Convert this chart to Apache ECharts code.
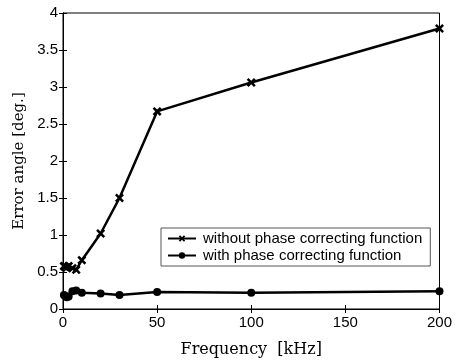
<!DOCTYPE html>
<html><head><meta charset="utf-8">
<script src="https://cdn.jsdelivr.net/npm/echarts@6/dist/echarts.min.js"></script>
<style>html,body{margin:0;padding:0;background:#fff}#c{width:455px;height:363px}</style>
</head><body><div id="c"></div>
<script>
var freq = [0.5, 1, 2, 3, 5, 7, 10, 20, 30, 50, 100, 200];
var withoutCorr = [0.58, 0.57, 0.56, 0.58, 0.55, 0.53, 0.66, 1.02, 1.5, 2.67, 3.06, 3.79];
var withCorr = [0.19, 0.18, 0.16, 0.17, 0.24, 0.25, 0.22, 0.21, 0.19, 0.23, 0.22, 0.24];
var xTicks = [0, 50, 100, 150, 200];
var yTicks = [0, 0.5, 1, 1.5, 2, 2.5, 3, 3.5, 4];
var seriesNames = ['without phase correcting function', 'with phase correcting function'];

function pairs(xs, ys) { return xs.map(function (x, i) { return [x, ys[i]]; }); }
var cross = 'path://M0,2 L2,0 L5,3 L8,0 L10,2 L7,5 L10,8 L8,10 L5,7 L2,10 L0,8 L3,5 Z';
var tickFont = {color: '#000', fontFamily: 'Liberation Sans, Arial, sans-serif', fontSize: 15};
var titleFont = {color: '#000', fontFamily: 'DejaVu Serif, serif', fontSize: 15};
var lineStyle = {color: '#000', width: 1};

var chart = echarts.init(document.getElementById('c'));
chart.setOption({
  animation: false,
  backgroundColor: '#fff',
  grid: {left: 63, right: 12, top: 13, bottom: 50, show: true, borderColor: '#000', borderWidth: 1},
  legend: {
    left: 161, top: 228, orient: 'vertical', itemGap: 0, itemWidth: 28, itemHeight: 8,
    padding: [2, 8, 2, 6], borderColor: '#555', borderWidth: 1, backgroundColor: '#fff',
    textStyle: {color: '#000', fontFamily: 'Liberation Sans, Arial, sans-serif', fontSize: 15, lineHeight: 17, padding: [0, 0, 0, 2]},
    data: seriesNames
  },
  xAxis: [{
    type: 'value', min: xTicks[0], max: xTicks[xTicks.length - 1], interval: 50,
    name: 'Frequency  [kHz]', nameLocation: 'middle', nameGap: 33,
    nameTextStyle: {color: '#000', fontFamily: 'DejaVu Serif, serif', fontSize: 16},
    axisLine: {lineStyle: lineStyle}, axisTick: {inside: true, length: 4, lineStyle: lineStyle},
    axisLabel: Object.assign({margin: 6}, tickFont), splitLine: {show: false}
  }, {
    type: 'value', position: 'top', min: 0, max: 200, interval: 50,
    axisLine: {lineStyle: lineStyle}, axisTick: {inside: true, length: 4, lineStyle: lineStyle},
    axisLabel: {show: false}, splitLine: {show: false}
  }],
  yAxis: [{
    type: 'value', min: yTicks[0], max: yTicks[yTicks.length - 1], interval: 0.5,
    name: 'Error angle [deg.]', nameLocation: 'middle', nameGap: 35,
    nameTextStyle: titleFont,
    axisLine: {lineStyle: lineStyle}, axisTick: {inside: true, length: 4, lineStyle: lineStyle},
    axisLabel: Object.assign({margin: 5}, tickFont), splitLine: {show: false}
  }, {
    type: 'value', position: 'right', min: 0, max: 4, interval: 0.5,
    axisLine: {lineStyle: lineStyle}, axisTick: {inside: true, length: 4, lineStyle: lineStyle},
    axisLabel: {show: false}, splitLine: {show: false}
  }],
  series: [{
    name: seriesNames[0], type: 'line', data: pairs(freq, withoutCorr),
    symbol: cross, symbolSize: 9, showAllSymbol: true,
    lineStyle: {color: '#000', width: 2.5}, itemStyle: {color: '#000'}
  }, {
    name: seriesNames[1], type: 'line', data: pairs(freq, withCorr),
    symbol: 'circle', symbolSize: 8, showAllSymbol: true,
    lineStyle: {color: '#000', width: 2.5}, itemStyle: {color: '#000'}
  }]
});
</script></body></html>
